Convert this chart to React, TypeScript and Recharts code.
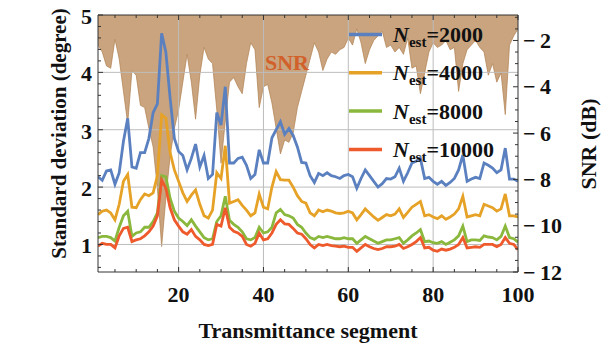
import React from 'react';
import { ComposedChart, Line, Area, XAxis, YAxis, ReferenceLine } from 'recharts';

const FONT = '"Liberation Serif", "Times New Roman", serif';

const segments = [
  1, 2, 3, 4, 5, 6, 7, 8, 9, 10, 11, 12, 13, 14, 15, 16, 17, 18, 19, 20,
  21, 22, 23, 24, 25, 26, 27, 28, 29, 30, 31, 32, 33, 34, 35, 36, 37, 38, 39, 40,
  41, 42, 43, 44, 45, 46, 47, 48, 49, 50, 51, 52, 53, 54, 55, 56, 57, 58, 59, 60,
  61, 62, 63, 64, 65, 66, 67, 68, 69, 70, 71, 72, 73, 74, 75, 76, 77, 78, 79, 80,
  81, 82, 83, 84, 85, 86, 87, 88, 89, 90, 91, 92, 93, 94, 95, 96, 97, 98, 99, 100,
];

const std2000 = [
  2.18, 2.12, 2.28, 2.3, 2.05, 2.25, 2.8, 3.2, 2.35, 2.33,
  2.6, 2.6, 2.85, 3.3, 3.45, 4.68, 4.35, 3.55, 2.85, 2.62,
  2.55, 2.3, 2.5, 2.75, 2.35, 2.55, 2.15, 2.22, 3.3, 3.08,
  3.75, 2.42, 2.42, 2.5, 2.52, 2.38, 2.15, 2.22, 2.65, 2.42,
  2.42, 2.86, 3.0, 3.14, 2.92, 3.02, 2.9, 2.7, 2.43, 2.42,
  2.2, 2.08, 2.24, 2.2, 2.25, 2.2, 2.18, 2.15, 2.2, 2.22,
  2.18, 1.98, 2.15, 2.3, 2.2, 2.1, 2.0, 2.06, 2.15, 2.14,
  2.18, 2.33, 2.1, 2.25, 2.42, 2.45, 2.5, 2.15, 2.17, 2.1,
  2.05, 2.1, 2.03, 2.08, 2.15, 2.3, 2.56, 2.1, 2.14, 2.17,
  2.15, 2.42, 2.38, 2.33, 2.25, 2.3, 2.68, 2.14, 2.14, 2.1,
];

const std4000 = [
  1.52, 1.58, 1.6, 1.55, 1.43, 1.7, 2.1, 2.22, 1.65, 1.64,
  1.78, 1.88, 1.85, 1.9, 2.2, 3.26, 3.2, 2.6, 2.3, 2.1,
  1.9, 1.75, 1.86, 1.95, 1.7, 1.5, 1.46, 1.6, 2.25, 2.15,
  2.72, 1.72, 1.75, 1.78, 1.68, 1.6, 1.5, 1.55, 1.88, 1.65,
  1.62, 2.0, 2.27, 2.13, 2.12, 2.12, 2.0, 1.85, 1.75, 1.72,
  1.55, 1.5, 1.6, 1.57, 1.6, 1.58, 1.55, 1.54, 1.55, 1.58,
  1.55, 1.43, 1.52, 1.62, 1.55, 1.48, 1.42, 1.47, 1.52, 1.5,
  1.53, 1.62, 1.47, 1.56, 1.65, 1.7, 1.75, 1.5, 1.52, 1.48,
  1.45, 1.5, 1.44, 1.48, 1.53, 1.62, 1.84, 1.48, 1.5, 1.52,
  1.5, 1.7, 1.67, 1.64, 1.58, 1.62, 1.88, 1.5, 1.5, 1.48,
];

const std8000 = [
  1.12, 1.14, 1.14, 1.12, 1.06, 1.3, 1.5, 1.58, 1.14, 1.2,
  1.22, 1.3, 1.3, 1.4, 1.55, 2.2, 2.18, 1.8, 1.58, 1.46,
  1.4, 1.33, 1.43, 1.32, 1.22, 1.12, 1.08, 1.1, 1.4, 1.5,
  1.84, 1.42, 1.35, 1.3, 1.22, 1.1, 1.08, 1.12, 1.3, 1.2,
  1.22, 1.3, 1.55, 1.61, 1.52, 1.5, 1.46, 1.35, 1.3, 1.2,
  1.12, 1.09, 1.14, 1.12, 1.14, 1.12, 1.1, 1.1, 1.12, 1.1,
  1.1, 1.02, 1.08, 1.14, 1.1, 1.06, 1.02, 1.05, 1.08, 1.08,
  1.1, 1.12, 1.02, 1.08, 1.15, 1.2, 1.26, 1.05, 1.06, 1.03,
  1.02, 1.05, 1.0, 1.04, 1.08, 1.15, 1.32, 1.05, 1.08, 1.08,
  1.07, 1.15, 1.13, 1.12, 1.08, 1.14, 1.32, 1.12, 1.1, 1.04,
];

const std10000 = [
  0.97, 1.02, 1.0, 1.0, 0.94, 1.15, 1.28, 1.3, 1.05, 1.08,
  1.1, 1.15, 1.22, 1.32, 1.5, 2.12, 1.98, 1.64, 1.43, 1.32,
  1.22, 1.18, 1.26, 1.14, 1.08, 1.0, 0.98, 1.0, 1.35, 1.32,
  1.64, 1.3, 1.23, 1.2, 1.14, 1.0, 0.97, 1.02, 1.2, 1.08,
  1.1, 1.2, 1.35, 1.43, 1.36, 1.35, 1.28, 1.2, 1.18, 1.1,
  1.0, 0.94, 1.0, 0.98, 1.0, 0.98, 0.97, 0.96, 0.97, 0.95,
  0.95, 0.88, 0.94, 1.0, 0.96, 0.93, 0.91, 0.93, 0.96, 0.96,
  0.97, 1.0, 0.93, 0.96, 1.0, 1.05, 1.12, 0.94, 0.95, 0.9,
  0.88, 0.92, 0.9, 0.92, 0.95, 1.0, 1.12, 0.94, 0.95, 0.96,
  0.95, 1.0, 1.0, 1.0, 0.96, 1.0, 1.12, 1.02, 1.0, 0.91,
];

const snrDb = [
  -2.2, -2.5, -3.1, -3.2, -1.95, -2.8, -4.2, -5.6, -3.3, -3.5,
  -4.8, -4.9, -5.8, -6.6, -8.4, -10.9, -8.8, -7.0, -5.8, -5.0,
  -3.8, -2.6, -3.8, -5.4, -3.5, -2.3, -2.8, -3.0, -5.0, -7.3,
  -5.5, -3.8, -3.6, -4.0, -4.3, -3.0, -2.1, -2.4, -4.9, -4.0,
  -3.9, -4.7, -5.8, -6.9, -6.3, -6.4, -6.0, -4.9, -4.2, -3.5,
  -2.8, -2.1, -2.5, -3.3, -2.8, -2.5, -2.6, -2.4, -2.3, -1.9,
  -2.2, -1.5, -2.1, -3.0, -2.4, -2.0, -1.8, -1.6, -2.3, -2.2,
  -2.5, -2.3, -2.6, -1.9, -3.2, -3.1, -4.3, -3.4, -2.5, -2.1,
  -2.3, -2.2, -2.0, -2.4, -2.3, -4.2, -3.0, -2.4, -2.2, -2.0,
  -2.3, -2.5, -3.5, -3.0, -3.8, -3.4, -5.2, -2.2, -1.8, -1.5,
];

const legendLabels = ['2000', '4000', '8000', '10000'];
const seriesKeys = ['n2000', 'n4000', 'n8000', 'n10000'];
const seriesColors = ['#5B80C0', '#E6A227', '#8AB83C', '#EE5A2C'];

const xMajor = [20, 40, 60, 80, 100];
const xMinor = [5, 10, 15, 25, 30, 35, 45, 50, 55, 65, 70, 75, 85, 90, 95];
const leftMajor = [1, 2, 3, 4, 5];
const leftMinor = [0.6, 0.8, 1.2, 1.4, 1.6, 1.8, 2.2, 2.4, 2.6, 2.8, 3.2, 3.4, 3.6, 3.8, 4.2, 4.4, 4.6, 4.8];
const rightMajor = [-2, -4, -6, -8, -10, -12];
const rightMinor = [-1, -1.5, -2.5, -3, -3.5, -4.5, -5, -5.5, -6.5, -7, -7.5, -8.5, -9, -9.5, -10.5, -11, -11.5];
const gridX = [20, 40, 60, 80];
const gridY = [1, 2, 3, 4];

const data = segments.map((s, i) => ({
  seg: s,
  n2000: std2000[i],
  n4000: std4000[i],
  n8000: std8000[i],
  n10000: std10000[i],
  snr: snrDb[i],
}));

const FRAME = '#333';
const MAJ = 5;
const MIN = 3;

function BottomTick(props: any) {
  const { x, y, payload } = props;
  const v = payload.value;
  const major = xMajor.includes(v);
  return (
    <g>
      <line x1={x} y1={y} x2={x} y2={y - (major ? MAJ : MIN)} stroke={FRAME} strokeWidth={1} />
      {major && (
        <text x={x} y={y + 30} textAnchor="middle" fontFamily={FONT} fontWeight="bold" fontSize={22} fill="#111">
          {v}
        </text>
      )}
    </g>
  );
}

function TopTick(props: any) {
  const { x, y, payload } = props;
  const major = xMajor.includes(payload.value);
  return <line x1={x} y1={y} x2={x} y2={y + (major ? MAJ : MIN)} stroke={FRAME} strokeWidth={1} />;
}

function LeftTick(props: any) {
  const { x, y, payload } = props;
  const v = payload.value;
  const major = leftMajor.includes(v);
  return (
    <g>
      <line x1={x} y1={y} x2={x + (major ? MAJ : MIN)} y2={y} stroke={FRAME} strokeWidth={1} />
      {major && (
        <text x={x - 6} y={y + 9} textAnchor="end" fontFamily={FONT} fontWeight="bold" fontSize={22} fill="#111">
          {v}
        </text>
      )}
    </g>
  );
}

function RightTick(props: any) {
  const { x, y, payload } = props;
  const v = payload.value;
  const major = rightMajor.includes(v);
  return (
    <g>
      <line x1={x} y1={y} x2={x - (major ? MAJ : MIN)} y2={y} stroke={FRAME} strokeWidth={1} />
      {major && (
        <text x={x + 5} y={y + 7.5} textAnchor="start" fontFamily={FONT} fontWeight="bold" fontSize={22} fill="#111">
          {'\u2212\u2009' + Math.abs(v)}
        </text>
      )}
    </g>
  );
}

export default function App() {
  const legendTop = 34.5;
  const legendStep = 38.3;
  const xTicks = [...xMinor, ...xMajor].sort((a, b) => a - b);
  return (
    <div style={{ position: 'absolute', left: 0, top: 0, width: 611, height: 345, background: '#fff' }}>
      <ComposedChart width={611} height={345} data={data} margin={{ top: 14, right: 0, bottom: 0, left: 0 }}>
        <Area
          xAxisId="bottom"
          yAxisId="right"
          dataKey="snr"
          type="linear"
          baseValue="dataMax"
          fill="#C9A47E"
          fillOpacity={1}
          stroke="#B08050"
          strokeWidth={0.7}
          isAnimationActive={false}
          legendType="none"
        />
        {gridX.map((g) => (
          <ReferenceLine key={'gx' + g} xAxisId="bottom" yAxisId="left" x={g} stroke="#BDBDBD" strokeWidth={1} />
        ))}
        {gridY.map((g) => (
          <ReferenceLine key={'gy' + g} xAxisId="bottom" yAxisId="left" y={g} stroke="#BDBDBD" strokeWidth={1} />
        ))}
        {seriesKeys.map((k, i) => (
          <Line
            key={k}
            xAxisId="bottom"
            yAxisId="left"
            dataKey={k}
            name={legendLabels[i]}
            type="linear"
            stroke={seriesColors[i]}
            strokeWidth={2.8}
            dot={false}
            isAnimationActive={false}
          />
        ))}
        <XAxis
          xAxisId="bottom"
          dataKey="seg"
          type="number"
          domain={[1, 100]}
          allowDataOverflow
          ticks={xTicks}
          interval={0}
          height={73}
          tickSize={0}
          tickMargin={0}
          tickLine={false}
          axisLine={{ stroke: FRAME, strokeWidth: 1 }}
          tick={<BottomTick />}
        />
        <XAxis
          xAxisId="top"
          orientation="top"
          dataKey="seg"
          type="number"
          domain={[1, 100]}
          allowDataOverflow
          ticks={xTicks}
          interval={0}
          height={1}
          tickSize={0}
          tickMargin={0}
          tickLine={false}
          axisLine={{ stroke: FRAME, strokeWidth: 1 }}
          tick={<TopTick />}
        />
        <YAxis
          yAxisId="left"
          type="number"
          domain={[0.52, 5]}
          allowDataOverflow
          ticks={[...leftMinor, ...leftMajor].sort((a, b) => a - b)}
          interval={0}
          width={98}
          tickSize={0}
          tickMargin={0}
          tickLine={false}
          axisLine={{ stroke: FRAME, strokeWidth: 1 }}
          tick={<LeftTick />}
        />
        <YAxis
          yAxisId="right"
          orientation="right"
          type="number"
          domain={[-12, -0.9]}
          allowDataOverflow
          ticks={[...rightMinor, ...rightMajor].sort((a, b) => a - b)}
          interval={0}
          width={93}
          tickSize={0}
          tickMargin={0}
          tickLine={false}
          axisLine={{ stroke: FRAME, strokeWidth: 1 }}
          tick={<RightTick />}
        />
      </ComposedChart>
      <svg width={611} height={345} style={{ position: 'absolute', left: 0, top: 0, pointerEvents: 'none' }}>
        <text x={265} y={70} fontFamily={FONT} fontWeight="bold" fontSize={22} fill="#D2602A">SNR</text>
        {legendLabels.map((lab, i) => {
          const cy = legendTop + i * legendStep;
          return (
            <g key={lab}>
              <line x1={349} x2={382} y1={cy} y2={cy} stroke={seriesColors[i]} strokeWidth={3.5} />
              <text x={393} y={cy + 7.5} fontFamily={FONT} fontWeight="bold" fontSize={22} fill="#111">
                <tspan fontStyle="italic">N</tspan>
                <tspan fontSize={15} dy={5}>est</tspan>
                <tspan dy={-5}>{'=' + lab}</tspan>
              </text>
            </g>
          );
        })}
        <text x={308} y={338} textAnchor="middle" fontFamily={FONT} fontWeight="bold" fontSize={22} fill="#111">
          Transmittance segment
        </text>
        <text
          x={0}
          y={0}
          transform="translate(66,133.5) rotate(-90)"
          textAnchor="middle"
          fontFamily={FONT}
          fontWeight="bold"
          fontSize={21}
          fill="#111"
        >
          Standard deviation (degree)
        </text>
        <text
          x={0}
          y={0}
          transform="translate(596,144) rotate(-90)"
          textAnchor="middle"
          fontFamily={FONT}
          fontWeight="bold"
          fontSize={22}
          fill="#111"
        >
          SNR (dB)
        </text>
      </svg>
    </div>
  );
}
